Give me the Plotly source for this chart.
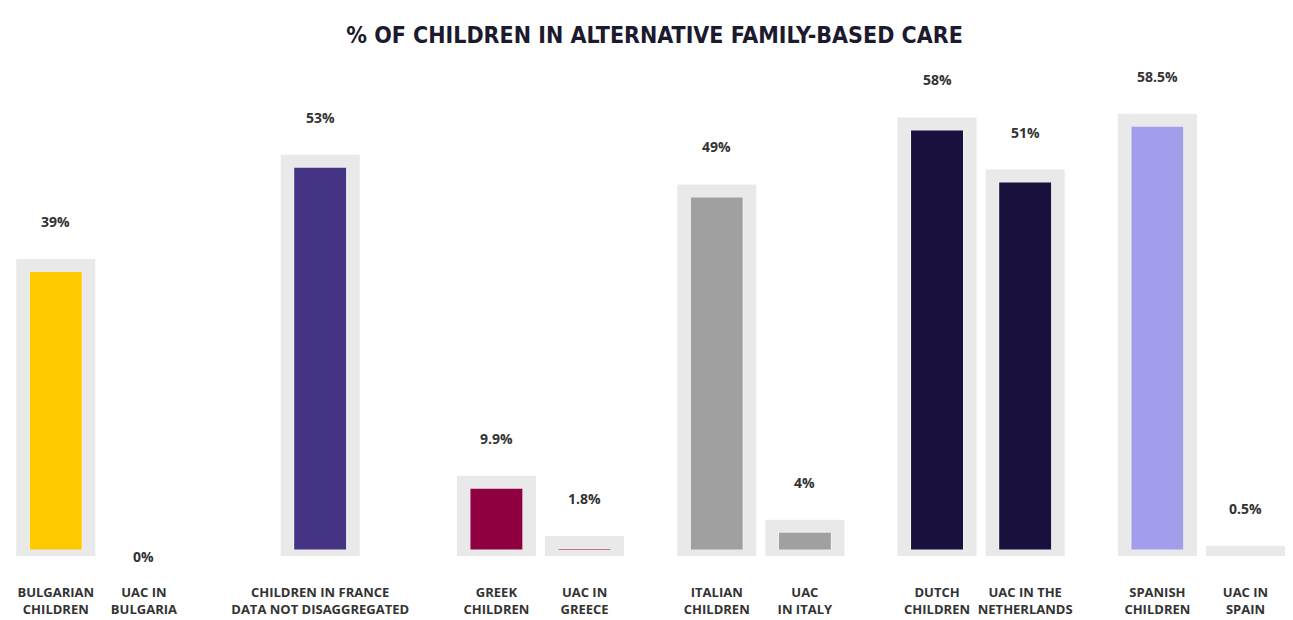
import plotly.graph_objects as go

# ---- data ----
groups = ["Bulgaria", "France", "Greece", "Italy", "Netherlands", "Spain"]
children_values = [39, 53, 9.9, 49, 58, 58.5]
uac_values = [0, None, 1.8, 4, 51, 0.5]
children_text = ["39%", "53%", "9.9%", "49%", "58%", "58.5%"]
uac_text = ["0%", None, "1.8%", "4%", "51%", "0.5%"]
children_labels = ["BULGARIAN<br>CHILDREN", "CHILDREN IN FRANCE<br>DATA NOT DISAGGREGATED",
                   "GREEK<br>CHILDREN", "ITALIAN<br>CHILDREN", "DUTCH<br>CHILDREN",
                   "SPANISH<br>CHILDREN"]
uac_labels = ["UAC IN<br>BULGARIA", None, "UAC IN<br>GREECE", "UAC<br>IN ITALY",
              "UAC IN THE<br>NETHERLANDS", "UAC IN<br>SPAIN"]
colors = ["#FFCA00", "#453383", "#8E0040", "#A0A0A0", "#1A103D", "#A29EEB"]

# ---- layout constants ----
PAIR_OFFSET = 0.2
FILL_W = 0.236
FRAME_W = 0.30
FRAME_COLOR = "#E9E9E9"
FRAME_LINE = 13
TEXT_COLOR = "#333333"
FONT = "Open Sans, Arial, sans-serif"

cx, cy, ctext, ccol = [], [], [], []
ux, uy, utext, ucol = [], [], [], []
tickvals, ticktext = [], []
for i, g in enumerate(groups):
    has_uac = uac_values[i] is not None
    xc = i - PAIR_OFFSET if has_uac else i
    cx.append(xc); cy.append(children_values[i]); ctext.append(children_text[i]); ccol.append(colors[i])
    tickvals.append(xc); ticktext.append(children_labels[i])
    if has_uac:
        xu = i + PAIR_OFFSET
        ux.append(xu); uy.append(uac_values[i]); utext.append(uac_text[i]); ucol.append(colors[i])
        tickvals.append(xu); ticktext.append(uac_labels[i])

fig = go.Figure()
for xs, ys, cols in [(cx, cy, ccol), (ux, uy, ucol)]:
    fig.add_trace(go.Bar(x=xs, y=ys, width=[FILL_W] * len(xs),
                         marker=dict(color=cols, line=dict(width=0)),
                         hoverinfo="skip", showlegend=False))
for xs, ys in [(cx, cy), (ux, uy)]:
    fig.add_trace(go.Bar(x=xs, y=ys, width=[FRAME_W] * len(xs),
                         marker=dict(color="rgba(0,0,0,0)",
                                     line=dict(color=FRAME_COLOR,
                                               width=[0 if v == 0 else FRAME_LINE for v in ys])),
                         hoverinfo="skip", showlegend=False))

for xs, ys, ts in [(cx, cy, ctext), (ux, uy, utext)]:
    for x, y, t in zip(xs, ys, ts):
        fig.add_annotation(x=x, y=y, text=t, showarrow=False, yshift=44 if y > 0 else 0,
                           font=dict(family=FONT, size=14, color=TEXT_COLOR, weight="bold"))

fig.update_layout(
    width=1293, height=620,
    margin=dict(l=0, r=0, t=60, b=72),
    paper_bgcolor="white", plot_bgcolor="white",
    barmode="overlay",
    title=dict(text="% OF CHILDREN IN ALTERNATIVE FAMILY-BASED CARE",
               x=0.5, xanchor="center", y=1 - 27 / 620, yanchor="middle", yref="container",
               font=dict(family="DejaVu Sans Condensed, Liberation Sans Narrow, Roboto, sans-serif",
                         size=23, color="#1C1A2E", weight="bold")),
    xaxis=dict(range=[-0.417, 5.452], tickvals=tickvals, ticktext=ticktext, tickangle=0,
               showgrid=False, zeroline=False, showline=False, ticks="",
               tickfont=dict(family=FONT, size=13, color=TEXT_COLOR, weight="bold"),
               ticklabelstandoff=27, automargin=False, fixedrange=True),
    yaxis=dict(range=[0, 65.5], visible=False, fixedrange=True),
)

fig.write_html("out.html")
